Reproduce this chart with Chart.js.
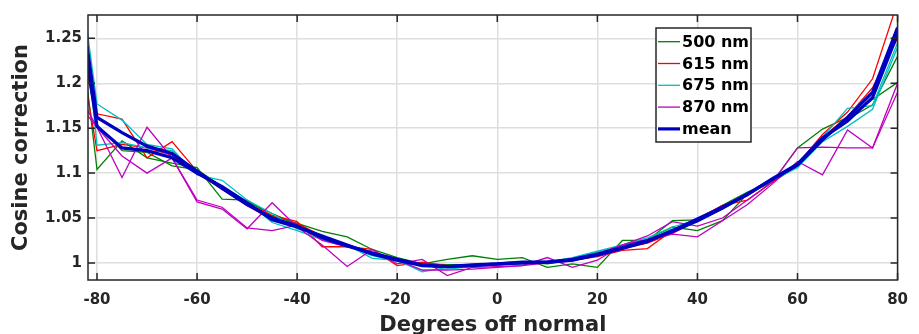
<!DOCTYPE html>
<html><head><meta charset="utf-8">
<script src="https://cdn.jsdelivr.net/npm/chart.js@4/dist/chart.umd.min.js"></script>
<style>html,body{margin:0;padding:0;background:#fff;overflow:hidden}#wrap{width:919px;height:334px;position:relative}</style>
</head><body><div id="wrap"><canvas id="c" width="919" height="334"></canvas></div>
<script>
const angles = [-82,-80,-75,-70,-65,-60,-55,-50,-45,-40,-35,-30,-25,-20,-15,-10,-5,0,5,10,15,20,25,30,35,40,45,50,55,60,65,70,75,80];

const nm500a = [1.198,1.104,1.136,1.117,1.111,1.106, 1.071,1.070,1.052,1.044,1.035,1.029,1.015,1.006, 0.999,1.004,1.008,1.004,1.006,0.995,0.999,0.995, 1.025,1.025,1.047,1.048,1.064,1.079,1.090,1.128, 1.149,1.162,1.182,1.201];
const nm500b = [1.215,1.154,1.125,1.123,1.108,1.104, 1.085,1.068,1.055,1.043,1.030,1.020,1.012,1.004, 0.999,0.998,0.998,0.999,1.001,0.999,1.003,1.008, 1.017,1.026,1.040,1.036,1.047,1.077,1.090,1.108, 1.138,1.160,1.176,1.230];
const nm615a = [1.215,1.166,1.160,1.117,1.135,1.102, 1.085,1.066,1.053,1.046,1.018,1.018,1.015,0.997, 1.001,0.997,0.997,0.998,0.999,1.000,1.003,1.007, 1.014,1.016,1.036,1.049,1.064,1.070,1.090,1.110, 1.143,1.168,1.205,1.290];
const nm615b = [1.190,1.125,1.132,1.128,1.120,1.100, 1.082,1.064,1.048,1.044,1.030,1.020,1.010,1.002, 0.998,0.996,0.997,0.999,1.000,1.001,1.004,1.010, 1.016,1.022,1.033,1.047,1.060,1.075,1.092,1.108, 1.140,1.163,1.195,1.250];
const nm675a = [1.260,1.177,1.159,1.132,1.127,1.098, 1.092,1.070,1.055,1.038,1.030,1.020,1.005,1.003, 0.990,0.995,0.996,0.998,0.999,1.000,1.005,1.012, 1.019,1.026,1.038,1.046,1.060,1.075,1.092,1.106, 1.135,1.152,1.171,1.240];
const nm675b = [1.240,1.131,1.134,1.128,1.125,1.100, 1.085,1.068,1.045,1.036,1.026,1.018,1.008,1.002, 0.992,0.993,0.996,0.998,1.000,1.001,1.006,1.013, 1.020,1.028,1.040,1.048,1.062,1.078,1.094,1.108, 1.140,1.172,1.175,1.245];
const nm870a = [1.171,1.151,1.095,1.151,1.117,1.068, 1.060,1.038,1.067,1.040,1.020,0.996,1.015,0.999, 1.004,0.986,0.995,0.996,0.997,1.006,0.995,1.003, 1.020,1.030,1.046,1.041,1.050,1.070,1.090,1.128, 1.129,1.128,1.128,1.190];
const nm870b = [1.165,1.151,1.119,1.100,1.117,1.070, 1.062,1.039,1.036,1.042,1.025,1.018,1.012,1.003, 0.992,0.992,0.993,0.995,0.997,1.000,1.002,1.010, 1.020,1.026,1.032,1.029,1.047,1.065,1.088,1.113, 1.098,1.148,1.128,1.200];
const meanA  = [1.242,1.162,1.145,1.130,1.122,1.102, 1.083,1.065,1.050,1.041,1.028,1.019,1.011,1.004, 0.998,0.996,0.997,0.999,1.000,1.001,1.003,1.009, 1.016,1.024,1.036,1.049,1.062,1.076,1.094,1.110, 1.139,1.158,1.184,1.255];
const meanB  = [1.226,1.152,1.128,1.125,1.117,1.100, 1.085,1.067,1.048,1.040,1.030,1.020,1.010,1.003, 0.997,0.996,0.998,0.999,1.001,1.001,1.004,1.010, 1.017,1.025,1.035,1.047,1.061,1.077,1.093,1.109, 1.137,1.162,1.190,1.262];

const xTicks = [-80,-60,-40,-20,0,20,40,60,80];
const xTickLabels = ['-80','-60','-40','-20','0','20','40','60','80'];
const yTicks = [1,1.05,1.1,1.15,1.2,1.25];
const yTickLabels = ['1','1.05','1.1','1.15','1.2','1.25'];
const seriesLabels = ['500 nm','615 nm','675 nm','870 nm','mean'];
const seriesColors = ['#008000','#ff0000','#00bfbf','#bf00bf','#0000c0'];

const FAM = '"DejaVu Sans", sans-serif';
const pts = arr => angles.map((a,i)=>({x:a,y:arr[i]}));
function ds(arr, k, legend){
  const isMean = k===4;
  return {label: seriesLabels[k], data: pts(arr), borderColor: seriesColors[k], backgroundColor: seriesColors[k],
    borderWidth: isMean?3.2:1.3, pointRadius:0, tension:0, fill:false, clip:0, order: 4-k, showInLegend: legend};
}
const datasets = [
  ds(nm500a,0,true), ds(nm500b,0,false),
  ds(nm615a,1,true), ds(nm615b,1,false),
  ds(nm675a,2,true), ds(nm675b,2,false),
  ds(nm870a,3,true), ds(nm870b,3,false),
  ds(meanA,4,true), ds(meanB,4,false)
];

const framePlugin = {
  id:'frame',
  afterDatasetsDraw(chart){
    const {ctx, chartArea:a, scales:{x,y}} = chart;
    ctx.save();
    ctx.strokeStyle='#262626'; ctx.lineWidth=1.5;
    ctx.strokeRect(a.left, a.top, a.right-a.left, a.bottom-a.top);
    const L=7;
    ctx.beginPath();
    xTicks.forEach(v=>{const p=x.getPixelForValue(v); ctx.moveTo(p,a.bottom); ctx.lineTo(p,a.bottom-L); ctx.moveTo(p,a.top); ctx.lineTo(p,a.top+L);});
    yTicks.forEach(v=>{const p=y.getPixelForValue(v); ctx.moveTo(a.left,p); ctx.lineTo(a.left+L,p); ctx.moveTo(a.right,p); ctx.lineTo(a.right-L,p);});
    ctx.stroke();
    ctx.restore();
  },
  afterDraw(chart){
    const ctx = chart.ctx;
    const items = chart.data.datasets.filter(d=>d.showInLegend);
    const bx=656, by=28, bw=95, bh=114, rowH=21.8, y0=41.7;
    ctx.save();
    ctx.fillStyle='#ffffff'; ctx.fillRect(bx,by,bw,bh);
    ctx.strokeStyle='#262626'; ctx.lineWidth=1.5; ctx.strokeRect(bx,by,bw,bh);
    ctx.font='bold 16px '+FAM; ctx.textBaseline='middle'; ctx.textAlign='left';
    items.forEach((d,i)=>{
      const yy = y0 + i*rowH;
      ctx.strokeStyle=d.borderColor; ctx.lineWidth=d.borderWidth;
      ctx.beginPath(); ctx.moveTo(658,yy); ctx.lineTo(680,yy); ctx.stroke();
      ctx.fillStyle='#000'; ctx.fillText(d.label, 682, yy+1);
    });
    ctx.restore();
  }
};

new Chart(document.getElementById('c'), {
  type:'line',
  data:{datasets},
  plugins:[framePlugin],
  options:{
    responsive:false, animation:false, devicePixelRatio:1,
    layout:{padding:{left:0,right:12,top:15,bottom:0}},
    plugins:{legend:{display:false}, tooltip:{enabled:false}},
    scales:{
      x:{type:'linear', min:-81.8, max:80,
        afterBuildTicks:s=>{s.ticks = xTicks.map(v=>({value:v}));},
        afterFit:s=>{s.height=54;},
        grid:{color:'#dedede', lineWidth:1.5, drawTicks:false}, border:{display:false},
        ticks:{padding:11, color:'#262626', autoSkip:false, maxRotation:0, font:{family:FAM,size:15,weight:'bold'},
          callback:(v,i)=>xTickLabels[i]},
        title:{display:true, text:'Degrees off normal', color:'#262626', font:{family:FAM,size:21,weight:'bold',lineHeight:1}, padding:{top:0,bottom:-2}}
      },
      y:{type:'linear', min:0.981, max:1.276,
        afterBuildTicks:s=>{s.ticks = yTicks.map(v=>({value:v}));},
        afterFit:s=>{s.width=88;},
        grid:{color:'#dedede', lineWidth:1.5, drawTicks:false}, border:{display:false},
        ticks:{padding:6, color:'#262626', autoSkip:false, font:{family:FAM,size:15,weight:'bold'},
          callback:(v,i)=>yTickLabels[i]},
        title:{display:true, text:'Cosine correction', color:'#262626', font:{family:FAM,size:21,weight:'bold',lineHeight:1}, padding:{top:11,bottom:0}}
      }
    }
  }
});
</script></body></html>
